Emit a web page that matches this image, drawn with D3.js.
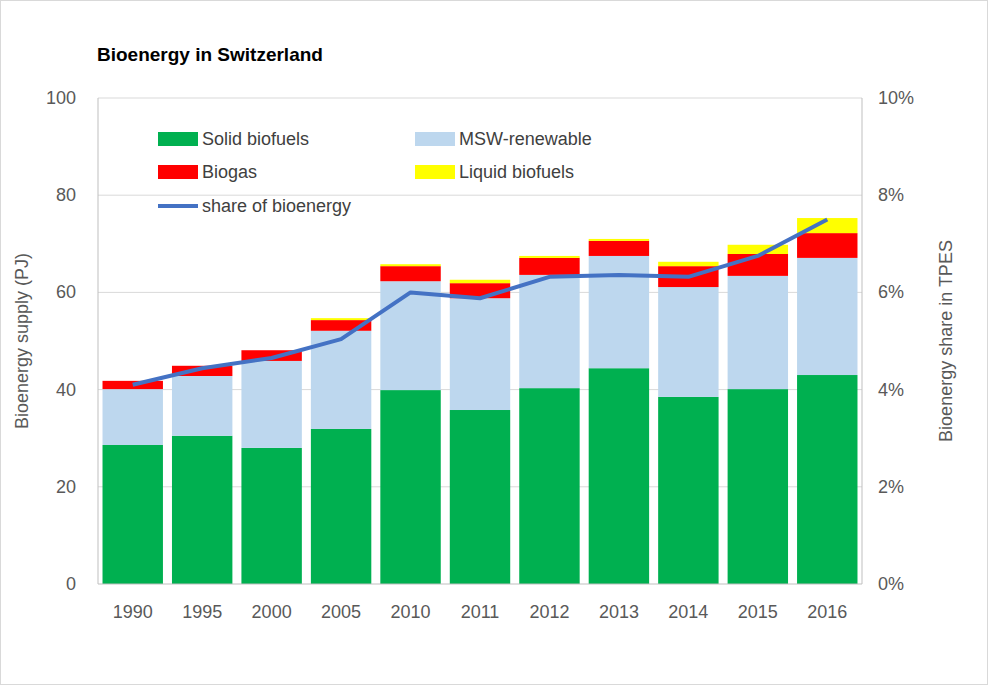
<!DOCTYPE html><html><head><meta charset="utf-8"><script src="https://cdn.jsdelivr.net/npm/d3@7"></script>
<style>body{margin:0;background:#fff}text{font-family:"Liberation Sans",Arial,sans-serif;fill:#595959}</style></head><body>
<svg id="c" width="988" height="685"></svg>
<script>
const years=["1990","1995","2000","2005","2010","2011","2012","2013","2014","2015","2016"];
const solid=[28.6,30.5,28,31.9,39.9,35.8,40.3,44.4,38.5,40.1,43];
const msw=[11.5,12.3,17.9,20.2,22.4,23,23.3,23.1,22.6,23.3,24.1];
const biogas=[1.7,2.1,2.2,2.2,3.1,3.1,3.5,3.1,4.3,4.5,5.1];
const liquid=[0,0,0,0.4,0.4,0.7,0.4,0.4,0.9,1.9,3.1];
const share=[4.1,4.44,4.65,5.04,6.0,5.88,6.32,6.36,6.32,6.75,7.5];
const leftTicks=[0,20,40,60,80,100], rightTicks=[0,2,4,6,8,10];
const names=["Solid biofuels","MSW-renewable","Biogas","Liquid biofuels"];
const colors=["#00b050","#bdd7ee","#ff0000","#ffff00"];
const svg=d3.select("#c");
svg.append("rect").attr("x",0.5).attr("y",0.5).attr("width",987).attr("height",684).attr("fill","#fff").attr("stroke","#d9d9d9");
const L=98,R=862,T=98,B=584;
const x=d3.scaleBand().domain(years).range([L,R]).paddingInner(0.13).paddingOuter(0.065);
const y=d3.scaleLinear().domain([0,100]).range([B,T]);
const y2=d3.scaleLinear().domain([0,10]).range([B,T]);
svg.append("g").selectAll("line").data(leftTicks.slice(1)).join("line").attr("x1",L).attr("x2",R).attr("y1",d=>y(d)).attr("y2",d=>y(d)).attr("stroke","#d9d9d9");
const series=[solid,msw,biogas,liquid];
const stack=years.map((yr,i)=>{let c=0;return series.map((s,k)=>{const r={yr,k,y0:c,y1:c+s[i]};c+=s[i];return r;});}).flat();
svg.append("g").selectAll("rect").data(stack).join("rect").attr("x",d=>x(d.yr)).attr("width",x.bandwidth()).attr("y",d=>y(d.y1)).attr("height",d=>y(d.y0)-y(d.y1)).attr("fill",d=>colors[d.k]);
svg.append("line").attr("x1",L).attr("x2",L).attr("y1",T).attr("y2",B).attr("stroke","#bfbfbf");
svg.append("line").attr("x1",R).attr("x2",R).attr("y1",T).attr("y2",B).attr("stroke","#bfbfbf");
svg.append("line").attr("x1",L).attr("x2",R).attr("y1",B).attr("y2",B).attr("stroke","#bfbfbf");
const line=d3.line().x((d,i)=>x(years[i])+x.bandwidth()/2).y(d=>y2(d));
svg.append("path").attr("d",line(share)).attr("fill","none").attr("stroke","#4472c4").attr("stroke-width",4).attr("stroke-linejoin","round");
const fs=18;
svg.append("g").selectAll("text").data(leftTicks).join("text").attr("x",76).attr("y",d=>y(d)+6).attr("text-anchor","end").attr("font-size",fs).text(d=>d);
svg.append("g").selectAll("text").data(rightTicks).join("text").attr("x",878).attr("y",d=>y2(d)+6).attr("font-size",fs).text(d=>d+"%");
svg.append("g").selectAll("text").data(years).join("text").attr("x",d=>x(d)+x.bandwidth()/2).attr("y",618).attr("text-anchor","middle").attr("font-size",fs).text(d=>d);
svg.append("text").attr("x",97).attr("y",61).attr("font-size",19).attr("font-weight","bold").style("fill","#000").text("Bioenergy in Switzerland");
svg.append("text").attr("transform","translate(28,341) rotate(-90)").attr("text-anchor","middle").attr("font-size",fs).text("Bioenergy supply (PJ)");
svg.append("text").attr("transform","translate(952,341) rotate(-90)").attr("text-anchor","middle").attr("font-size",fs).text("Bioenergy share in TPES");
const leg=[[158,139,0],[415,139,1],[158,172,2],[415,172,3]];
leg.forEach(([lx,ly,k])=>{svg.append("rect").attr("x",lx).attr("y",ly-7).attr("width",40).attr("height",14).attr("fill",colors[k]);
svg.append("text").attr("x",lx+44).attr("y",ly+6).attr("font-size",fs).style("fill","#404040").text(names[k]);});
svg.append("line").attr("x1",158).attr("x2",198).attr("y1",206).attr("y2",206).attr("stroke","#4472c4").attr("stroke-width",4);
svg.append("text").attr("x",202).attr("y",212).attr("font-size",fs).style("fill","#404040").text("share of bioenergy");
</script></body></html>
